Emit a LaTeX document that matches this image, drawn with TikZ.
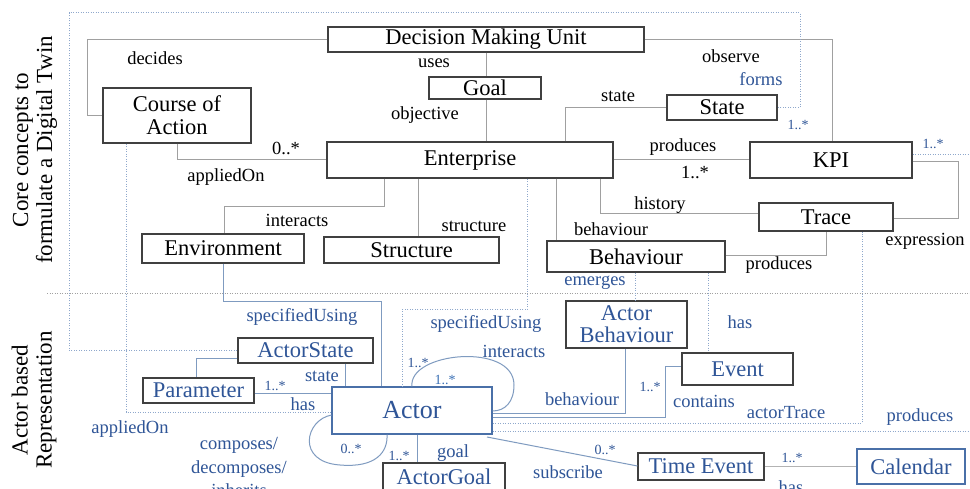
\documentclass[tikz,border=0pt]{standalone}
\usepackage{fontspec}
\setmainfont{Liberation Serif}
\definecolor{bt}{HTML}{2F5597}
\definecolor{bt2}{HTML}{3A70B5}
\definecolor{bc}{HTML}{404040}
\definecolor{gc}{HTML}{A0A0A0}
\definecolor{blc}{HTML}{7F9BC0}
\definecolor{dc}{HTML}{8FA8CC}
\definecolor{ab}{HTML}{4A70A8}
\tikzset{
 box/.style={draw=bc, line width=1.1pt, inner sep=0pt, align=center, font=\fontsize{22.5}{23}\selectfont},
 bbox/.style={box, text=bt},
 abox/.style={box, draw=ab, text=bt},
 con/.style={draw=gc, line width=1pt},
 bcon/.style={draw=blc, line width=1pt},
 dcon/.style={draw=dc, line width=1pt, dash pattern=on 1pt off 1.5pt},
 lbl/.style={inner sep=0pt, font=\fontsize{18.5}{20}\selectfont},
 blbl/.style={lbl, text=bt},
 mul/.style={inner sep=0pt, text=bt, font=\fontsize{14}{15}\selectfont},
 bmul/.style={inner sep=0pt, font=\fontsize{18.5}{20}\selectfont},
}
\begin{document}
\begin{tikzpicture}[x=1pt,y=-1pt]
\useasboundingbox (0,0) rectangle (970,489);
\fill[white] (0,0) rectangle (970,489);

% section labels
\node[rotate=90, align=center, inner sep=0pt, font=\fontsize{23}{24}\selectfont] (secA) at (35,150) {Core concepts to\\formulate a Digital Twin};
\node[rotate=90, align=center, inner sep=0pt, font=\fontsize{23}{24}\selectfont] (secB) at (34,400) {Actor based\\Representation};

% core boxes
\node[box, minimum width=316pt, minimum height=25pt] (dmu) at (486,39.5) {Decision Making Unit};
\node[box, minimum width=112pt, minimum height=22pt] (goal) at (485,88) {Goal};
\node[box, minimum width=286pt, minimum height=36pt] (ent) at (470,160) {Enterprise};
\node[box, minimum width=148pt, minimum height=55pt] (coa) at (177,115.5) {Course of\\Action};
\node[box, minimum width=110pt, minimum height=25pt] (state) at (722,107.5) {State};
\node[box, minimum width=162pt, minimum height=36pt] (kpi) at (831,160) {KPI};
\node[box, minimum width=134pt, minimum height=28pt] (trace) at (826,217) {Trace};
\node[box, minimum width=162pt, minimum height=29pt] (env) at (223,248.5) {Environment};
\node[box, minimum width=175pt, minimum height=26pt] (struct) at (411.5,250) {Structure};
\node[box, minimum width=178pt, minimum height=31pt] (beh) at (636,256.5) {Behaviour};

% actor boxes
\node[bbox, minimum width=121pt, minimum height=47pt, font=\fontsize{22.5}{22}\selectfont] (abeh) at (626.5,324.5) {Actor\\Behaviour};
\node[bbox, minimum width=111pt, minimum height=32pt] (event) at (737.5,369) {Event};
\node[bbox, minimum width=135pt, minimum height=25pt] (astate) at (305.5,350.5) {ActorState};
\node[bbox, minimum width=111pt, minimum height=25pt] (param) at (198.5,390.5) {Parameter};
\node[abox, minimum width=160pt, minimum height=47pt, font=\fontsize{26}{28}\selectfont] (actor) at (412,410.5) {Actor};
\node[bbox, minimum width=122pt, minimum height=28pt] (agoal) at (444,477) {ActorGoal};
\node[bbox, minimum width=126pt, minimum height=27pt] (tev) at (701,466.5) {Time Event};
\node[abox, minimum width=108pt, minimum height=35pt] (cal) at (911,466.5) {Calendar};

% offscreen targets
\coordinate (edgeA) at (970,431);
\coordinate (edgeB) at (970,155);
\coordinate (sepL) at (47,294);
\coordinate (sepR) at (970,294);

% separator
\draw[dcon, draw=gc] (sepL) -- (sepR);

% core connectors
\draw[con] (dmu.west) -- (87,39.5) -- (87,115.5) -- (coa.west);
\node[lbl] at (155,58) {decides};
\draw[con] (486,0 |- dmu.south) -- (486,0 |- goal.north);
\draw[con] (486,0 |- goal.south) -- (486,0 |- ent.north);
\node[lbl] at (434,63) {uses};
\node[lbl] at (425,115) {objective};
\draw[con] (dmu.east) -- (832,39.5) -- (832,0 |- kpi.north);
\node[lbl] at (731,56) {observe};
\draw[con] (565,0 |- ent.north) -- (565,107.5) -- (state.west);
\node[lbl] at (618,96) {state};
\draw[con] (ent.east) -- (kpi.west);
\node[lbl] at (683,147) {produces};
\node[bmul] at (695,173) {1..*};
\draw[con] (600,0 |- ent.south) -- (600,214) -- (trace.west |- 0,214);
\node[lbl] at (660,205) {history};
\draw[con] (556,0 |- ent.south) -- (556,0 |- beh.north);
\node[lbl] at (611,229) {behaviour};
\draw[con] (384,0 |- ent.south) -- (384,207) -- (224,207) -- (224,0 |- env.north);
\node[lbl] at (297,220) {interacts};
\draw[con] (418,0 |- ent.south) -- (418,0 |- struct.north);
\node[lbl] at (474,226) {structure};
\draw[con] (177,0 |- coa.south) -- (177,160) -- (ent.west);
\node[bmul] at (286,148) {0..*};
\node[lbl] at (226,177) {appliedOn};
\draw[con] (kpi.east |- 0,162) -- (958,162) -- (958,219) -- (trace.east |- 0,219);
\node[lbl] at (925,241) {expression};
\draw[con] (beh.east |- 0,256) -- (826,256) -- (826,0 |- trace.south);
\node[lbl] at (779,265) {produces};

% dotted connectors
\draw[dcon] (astate.west) -- (69,350.5) -- (69,13) -- (800,13) -- (800,107.5) -- (state.east);
\node[blbl] at (761,79) {forms};
\node[mul] at (798,125) {1..*};
\draw[dcon] (126,0 |- coa.south) -- (126,412) -- (actor.west |- 0,412);
\node[blbl] at (130,429) {appliedOn};
\draw[dcon] (527,0 |- ent.south) -- (527,310) -- (402,310) -- (402,0 |- actor.north);
\node[blbl] at (486,324) {specifiedUsing};
\draw[dcon] (635,0 |- beh.south) -- (635,0 |- abeh.north);
\node[blbl] at (595,283) {emerges};
\draw[dcon] (708,0 |- beh.south) -- (708,0 |- event.north);
\node[blbl] at (740,322) {has};
\draw[dcon] (actor.east |- 0,423) -- (862,423) -- (862,0 |- trace.south);
\node[blbl] at (786,413) {actorTrace};
\draw[dcon] (actor.east |- 0,431) -- (edgeA);
\node[blbl] at (920,417) {produces};
\draw[dcon] (kpi.east |- 0,155) -- (edgeB);
\node[mul] at (933,144) {1..*};

% actor solid connectors
\draw[bcon] (env.south) -- (223,302) -- (381,302) -- (381,0 |- actor.north);
\node[blbl] at (302,317) {specifiedUsing};
\draw[bcon] (astate.west |- 0,358) -- (196,358) -- (196,0 |- param.north);
\draw[bcon] (param.east |- 0,393) -- (actor.west |- 0,393);
\node[mul] at (275,386) {1..*};
\node[blbl] at (303,404) {has};
\draw[bcon] (345,0 |- astate.south) -- (345,0 |- actor.north);
\node[blbl] at (322,376) {state};
\draw[bcon] (412,0 |- actor.north) .. controls (408,352) and (514,342) .. (514,385) .. controls (514,402) and (505,411) .. (actor.east |- 0,411);
\node[mul] at (418,363) {1..*};
\node[mul, text=bt2] at (445,380) {1..*};
\node[blbl] at (514,351) {interacts};
\draw[bcon] (actor.east |- 0,413) -- (625,413) -- (625,0 |- abeh.south);
\node[blbl] at (582,399) {behaviour};
\draw[bcon] (actor.east |- 0,417) -- (665,417) -- (665,366) -- (event.west |- 0,366);
\node[mul] at (650,387) {1..*};
\node[blbl] at (704,401) {contains};
\draw[bcon] (actor.west |- 0,415) .. controls (305,420) and (296,462) .. (340,465) .. controls (376,468) and (388,452) .. (387,0 |- actor.south);
\node[mul] at (351,449) {0..*};
\node[blbl, align=center, font=\fontsize{18.5}{23.5}\selectfont] at (239,467) {composes/\\decomposes/\\inherits};
\draw[bcon] (417,0 |- actor.south) -- (417,0 |- agoal.north);
\node[mul] at (399,456) {1..*};
\node[blbl] at (453,453) {goal};
\draw[bcon] (487,437) -- (tev.west |- 0,466);
\node[mul] at (605,450) {0..*};
\node[blbl] at (568,472) {subscribe};
\draw[con, draw=gc!80] (tev.east) -- (cal.west);
\node[mul] at (792,458) {1..*};
\node[blbl] at (791,487) {has};
\end{tikzpicture}
\end{document}
